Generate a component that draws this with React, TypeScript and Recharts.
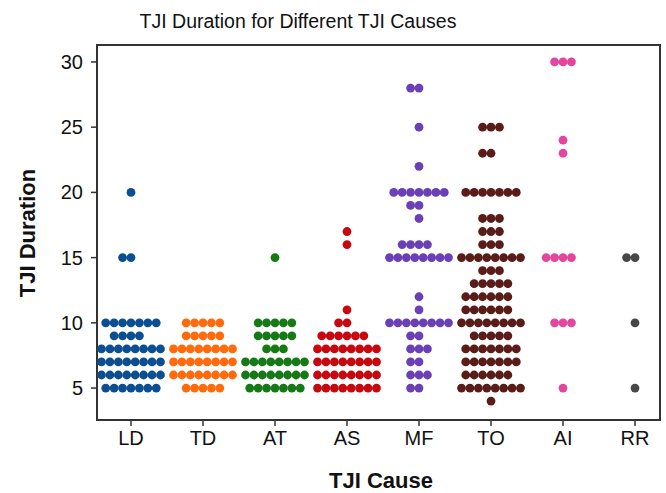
import { ReferenceArea, Scatter, ScatterChart, XAxis, YAxis } from "recharts";

const causes = ["LD", "TD", "AT", "AS", "MF", "TO", "AI", "RR"];

// duration value -> number of dots stacked at that value
const ldDuration = [5, 6, 7, 8, 9, 10, 15, 20];
const ldCount = [7, 8, 8, 8, 4, 7, 2, 1];

const tdDuration = [5, 6, 7, 8, 9, 10];
const tdCount = [5, 8, 8, 8, 5, 5];

const atDuration = [5, 6, 7, 8, 9, 10, 15];
const atCount = [7, 8, 8, 3, 5, 5, 1];

const asDuration = [5, 6, 7, 8, 9, 10, 11, 16, 17];
const asCount = [8, 8, 8, 8, 6, 2, 1, 1, 1];

const mfDuration = [5, 6, 7, 8, 9, 10, 11, 12, 15, 16, 18, 19, 20, 22, 25, 28];
const mfCount = [2, 3, 2, 3, 2, 8, 1, 1, 8, 4, 1, 2, 7, 1, 1, 2];

const toDuration = [4, 5, 6, 7, 8, 9, 10, 11, 12, 13, 14, 15, 16, 17, 18, 20, 23, 25];
const toCount = [1, 8, 6, 7, 7, 5, 8, 6, 6, 5, 3, 8, 3, 3, 3, 7, 2, 3];

const aiDuration = [5, 10, 15, 23, 24, 30];
const aiCount = [1, 3, 4, 1, 1, 3];

const rrDuration = [5, 10, 15];
const rrCount = [1, 1, 2];

const yTicks = [5, 10, 15, 20, 25, 30];

const colors = ["#0b4f92", "#ff6a0d", "#157a15", "#c8080f", "#6b3fb5", "#5a1c18", "#e2469f", "#474747"];

const groups = [
  [ldDuration, ldCount],
  [tdDuration, tdCount],
  [atDuration, atCount],
  [asDuration, asCount],
  [mfDuration, mfCount],
  [toDuration, toCount],
  [aiDuration, aiCount],
  [rrDuration, rrCount],
];

const DOT_STEP = 0.117; // horizontal gap between stacked dots, in category units
const X_DOMAIN: [number, number] = [-0.472, 7.347];
const Y_DOMAIN: [number, number] = [2.55, 31.3];

// short even rows sit half a step to the left, wide rows are centred
function offset(k: number, n: number) {
  const shift = n % 2 === 0 && n < 8 ? 0.5 : 0;
  return k - (n - 1) / 2 - shift;
}

function swarm(index: number, durations: number[], counts: number[]) {
  const pts: { x: number; y: number }[] = [];
  durations.forEach((d, j) => {
    const n = counts[j];
    for (let k = 0; k < n; k++) {
      pts.push({ x: index + offset(k, n) * DOT_STEP, y: d });
    }
  });
  return pts;
}

const font = "'Liberation Sans', Arial, Helvetica, sans-serif";

export default function App() {
  return (
    <div style={{ position: "absolute", left: 0, top: 0, width: 666, height: 493, background: "#fff", fontFamily: font, overflow: "hidden" }}>
      <div
        style={{
          position: "absolute",
          left: 298,
          top: 21,
          transform: "translate(-50%, -50%)",
          fontSize: 19.5,
          lineHeight: "20px",
          color: "#111",
          whiteSpace: "nowrap",
        }}
      >
        TJI Duration for Different TJI Causes
      </div>
      <div
        style={{
          position: "absolute",
          left: 381,
          top: 481,
          transform: "translate(-50%, -50%)",
          fontSize: 22,
          lineHeight: "20px",
          fontWeight: "bold",
          color: "#111",
          whiteSpace: "nowrap",
        }}
      >
        TJI Cause
      </div>
      <div
        style={{
          position: "absolute",
          left: 28,
          top: 233,
          transform: "translate(-50%, -50%) rotate(-90deg)",
          fontSize: 22,
          lineHeight: "22px",
          fontWeight: "bold",
          color: "#111",
          whiteSpace: "nowrap",
        }}
      >
        TJI Duration
      </div>
      <ScatterChart width={666} height={493} margin={{ top: 45, right: 6, bottom: 43, left: 40 }}>
        <XAxis
          type="number"
          dataKey="x"
          domain={X_DOMAIN}
          ticks={[0, 1, 2, 3, 4, 5, 6, 7]}
          tickFormatter={(v: number) => causes[v] ?? ""}
          allowDataOverflow
          height={30}
          axisLine={false}
          tickLine={{ stroke: "#333", strokeWidth: 1.5 }}
          tickSize={6}
          tickMargin={5}
          tick={{ fill: "#111", fontSize: 20, fontFamily: font }}
        />
        <YAxis
          type="number"
          dataKey="y"
          domain={Y_DOMAIN}
          ticks={yTicks}
          allowDataOverflow
          width={57}
          axisLine={false}
          tickLine={{ stroke: "#333", strokeWidth: 1.5 }}
          tickSize={6}
          tickMargin={8}
          tick={{ fill: "#111", fontSize: 20, fontFamily: font }}
        />
        <ReferenceArea
          x1={X_DOMAIN[0]}
          x2={X_DOMAIN[1]}
          y1={Y_DOMAIN[0]}
          y2={Y_DOMAIN[1]}
          fill="none"
          stroke="#333"
          strokeWidth={2}
          ifOverflow="visible"
        />
        {groups.map(([durations, counts], i) => (
          <Scatter
            key={causes[i]}
            name={causes[i]}
            data={swarm(i, durations, counts)}
            isAnimationActive={false}
            shape={(p: any) => <circle cx={p.cx} cy={p.cy} r={4.4} fill={colors[i]} />}
          />
        ))}
      </ScatterChart>
    </div>
  );
}
